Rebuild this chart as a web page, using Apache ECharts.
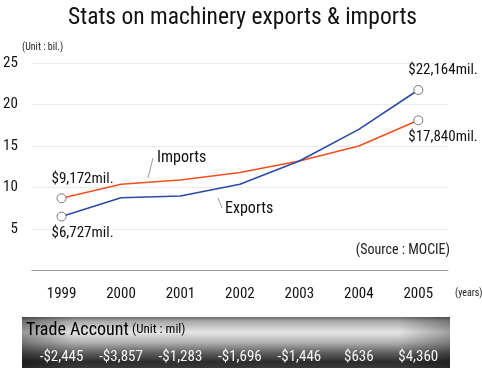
<!DOCTYPE html>
<html><head><meta charset="utf-8">
<script src="https://cdn.jsdelivr.net/npm/echarts@6/dist/echarts.min.js"></script>
<style>html,body{margin:0;padding:0;background:#fff}#c{width:482px;height:368px}</style>
</head><body><div id="c"></div>
<script>
const years = ['1999','2000','2001','2002','2003','2004','2005'];
const imports = [8.7, 10.4, 10.9, 11.8, 13.2, 15.0, 18.1];
const exports = [6.5, 8.77, 8.97, 10.4, 13.2, 17.0, 21.75];
const tradeAccount = ['-$2,445','-$3,857','-$1,283','-$1,696','-$1,446','$636','$4,360'];
const yTicks = [0, 5, 10, 15, 20, 25];
const endLabels = {imports: ['$9,172mil.', '$17,840mil.'], exports: ['$6,727mil.', '$22,164mil.']};

const FONT = '"Liberation Sans Narrow", "Roboto Condensed", Roboto, sans-serif';
const chart = echarts.init(document.getElementById('c'));

function mk(data, labels, pos) {
  return data.map((v, i) => {
    const isEnd = i === 0 || i === data.length - 1;
    const o = {value: v};
    if (isEnd) {
      o.symbol = 'circle'; o.symbolSize = 9;
      o.itemStyle = {color: '#fff', borderColor: '#777', borderWidth: 1};
      o.label = {show: true, formatter: i === 0 ? labels[0] : labels[1], position: pos[i === 0 ? 0 : 1],
        fontSize: 15, color: '#111', fontFamily: FONT};
    } else {
      o.symbol = 'none';
    }
    return o;
  });
}

chart.setOption({
  animation: false,
  title: {text: 'Stats on machinery exports & imports', left: 63, top: 1,
    textStyle: {fontSize: 23.5, fontWeight: 'normal', color: '#111', fontFamily: FONT}},
  grid: {left: 27.7, right: 34, top: 63, bottom: 97.5},
  xAxis: [{
    type: 'category', data: years, boundaryGap: true,
    axisLine: {lineStyle: {color: '#999'}},
    axisTick: {alignWithLabel: true, inside: true, length: 5, lineStyle: {color: '#aaa'}},
    axisLabel: {fontSize: 15, color: '#111', margin: 16, fontFamily: FONT}
  }, {
    type: 'category', data: tradeAccount, position: 'bottom', offset: 87, boundaryGap: true,
    axisLine: {show: false}, axisTick: {show: false},
    axisLabel: {fontSize: 15, color: '#f4f4f4', margin: 0, fontFamily: FONT, verticalAlign: 'middle'}
  }],
  yAxis: {
    type: 'value', min: yTicks[0], max: yTicks[yTicks.length - 1], interval: 5,
    axisLine: {show: false}, axisTick: {show: false},
    axisLabel: {fontSize: 15, color: '#111', margin: 14, fontFamily: FONT,
      formatter: v => v === 0 ? '' : String(v)},
    splitLine: {lineStyle: {color: '#d8d8d8', type: 'dotted'}}
  },
  graphic: [
    {type: 'rect', z: -1, shape: {x: 22, y: 317, width: 428, height: 51},
      style: {fill: new echarts.graphic.LinearGradient(0, 0, 0, 1, [
        {offset: 0, color: '#6a6a6a'}, {offset: 0.08, color: '#a8a8a8'}, {offset: 0.3, color: '#e6e6e6'},
        {offset: 0.5, color: '#b0b0b0'}, {offset: 0.7, color: '#606060'}, {offset: 0.88, color: '#2c2c2c'},
        {offset: 1, color: '#3a3a3a'}])}},
    {type: 'rect', z: -1, shape: {x: 22, y: 317, width: 428, height: 51},
      style: {fill: new echarts.graphic.LinearGradient(0, 0, 1, 0, [
        {offset: 0, color: 'rgba(0,0,0,0.35)'}, {offset: 0.12, color: 'rgba(0,0,0,0)'},
        {offset: 0.88, color: 'rgba(0,0,0,0)'}, {offset: 1, color: 'rgba(0,0,0,0.3)'}])}},
    {type: 'text', left: 26, top: 321, style: {rich: {a: {fontSize: 18, fill: '#000', fontFamily: FONT}, b: {fontSize: 13, fill: '#000', fontFamily: FONT}},
      text: '{a|Trade Account} {b|(Unit : mil)}'}},
    {type: 'text', left: 22, top: 42, style: {text: '(Unit : bil.)', fontSize: 10, fill: '#222', fontFamily: FONT}},
    {type: 'text', right: 32, top: 243, style: {text: '(Source : MOCIE)', fontSize: 14, fill: '#222', fontFamily: FONT}},
    {type: 'text', left: 455, top: 288, style: {text: '(years)', fontSize: 10, fill: '#222', fontFamily: FONT}},
    {type: 'text', left: 157, top: 150, style: {text: 'Imports', fontSize: 16, fill: '#111', fontFamily: FONT}},
    {type: 'line', shape: {x1: 153, y1: 158, x2: 148, y2: 178}, style: {stroke: '#999', lineWidth: 1}},
    {type: 'text', left: 225, top: 201, style: {text: 'Exports', fontSize: 16, fill: '#111', fontFamily: FONT}},
    {type: 'line', shape: {x1: 218, y1: 198, x2: 222, y2: 208}, style: {stroke: '#999', lineWidth: 1}}
  ],
  series: [
    {name: 'Imports', type: 'line', data: mk(imports, endLabels.imports, [['-5', -22], ['-5', 14]]),
      lineStyle: {color: '#f2501f', width: 1.6}, showSymbol: true, z: 3},
    {name: 'Exports', type: 'line', data: mk(exports, endLabels.exports, [['-5', 14], ['-5', -22]]),
      lineStyle: {color: '#2b4aa8', width: 1.6}, showSymbol: true, z: 4}
  ]
});
</script></body></html>
